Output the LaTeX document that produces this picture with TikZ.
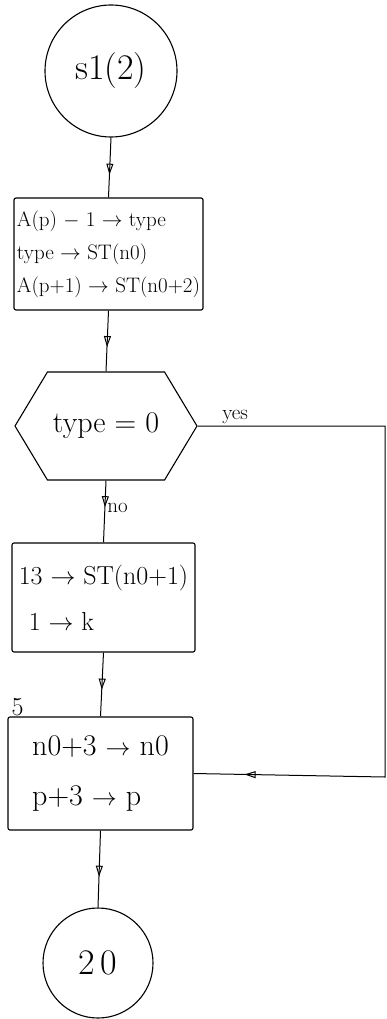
\documentclass[tikz,border=0pt]{standalone}
\usepackage{amsmath}
\usepackage{tikz}
\usetikzlibrary{arrows.meta, positioning, calc, shapes.symbols, decorations.markings}

\begin{document}
\begin{tikzpicture}[x=1pt, y=-1pt, >={Triangle[open, width=7pt, length=11pt]},
    term/.style={draw, circle, line width=1.1pt, minimum size=#1, inner sep=0pt,
        font=\fontsize{36}{40}\selectfont},
    opbox/.style={draw, rectangle, rounded corners=2pt, line width=1.1pt, align=left,
        inner sep=3pt},
    decide/.style={draw, signal, signal to=east and west, signal pointer angle=118,
        line width=1.1pt, minimum width=182pt, minimum height=108pt, inner sep=2pt,
        font=\fontsize{30}{34}\selectfont},
    lbl/.style={font=\fontsize{21}{24}\selectfont, inner sep=2pt},
    flow/.style={line width=1pt, decoration={markings, mark=at position #1 with {\arrow{>}}},
        postaction={decorate}},
]
    \useasboundingbox (0, 0) rectangle (387, 1019);

    % start and end connectors
    \node[term=132pt] (start) at (111, 71) {s1(2)};
    \node[term=110pt] (stop) at (98, 963) {2\,0};

    % the steps
    \node[opbox, minimum width=187pt, minimum height=112pt, font=\fontsize{21}{33}\selectfont]
        (settype) at (108.5, 254)
        {A(p) $-$ 1 $\to$ type\\ type $\to$ ST(n0)\\ A(p+1) $\to$ ST(n0+2)};
    \node[decide] (istype) at (106, 426) {type = 0};
    \node[opbox, minimum width=183pt, minimum height=109pt, font=\fontsize{26}{30}\selectfont]
        (setk) at (103.5, 597.5)
        {13 $\to$ ST(n0+1)\\[16pt] \hspace{10pt}1 $\to$ k};
    \node[opbox, minimum width=185pt, minimum height=113pt, font=\fontsize{30}{32}\selectfont]
        (step) at (100.5, 773.5)
        {n0+3 $\to$ n0\\[18pt] p+3 $\to$ p\hspace{14pt}};
    \node[lbl, font=\fontsize{26}{28}\selectfont, above right=-2pt and 2pt of step.north west] (five) {5};

    \coordinate (yturn) at (385, 777);

    % connectors
    \draw[flow=0.62] (start.south) -- (settype.north);
    \draw[flow=0.6] (settype.south) -- (istype.north);
    \draw[flow=0.43] (istype.south) -- node[lbl, right, pos=0.45] {no} (setk.north);
    \draw[flow=0.58] (setk.south) -- (step.north);
    \draw[flow=0.6] (step.south) -- (stop.north);
    \draw[flow=0.93] (istype.east) -| node[lbl, above, pos=0.1] {yes} (yturn) -- (step.east);

\end{tikzpicture}
\end{document}
